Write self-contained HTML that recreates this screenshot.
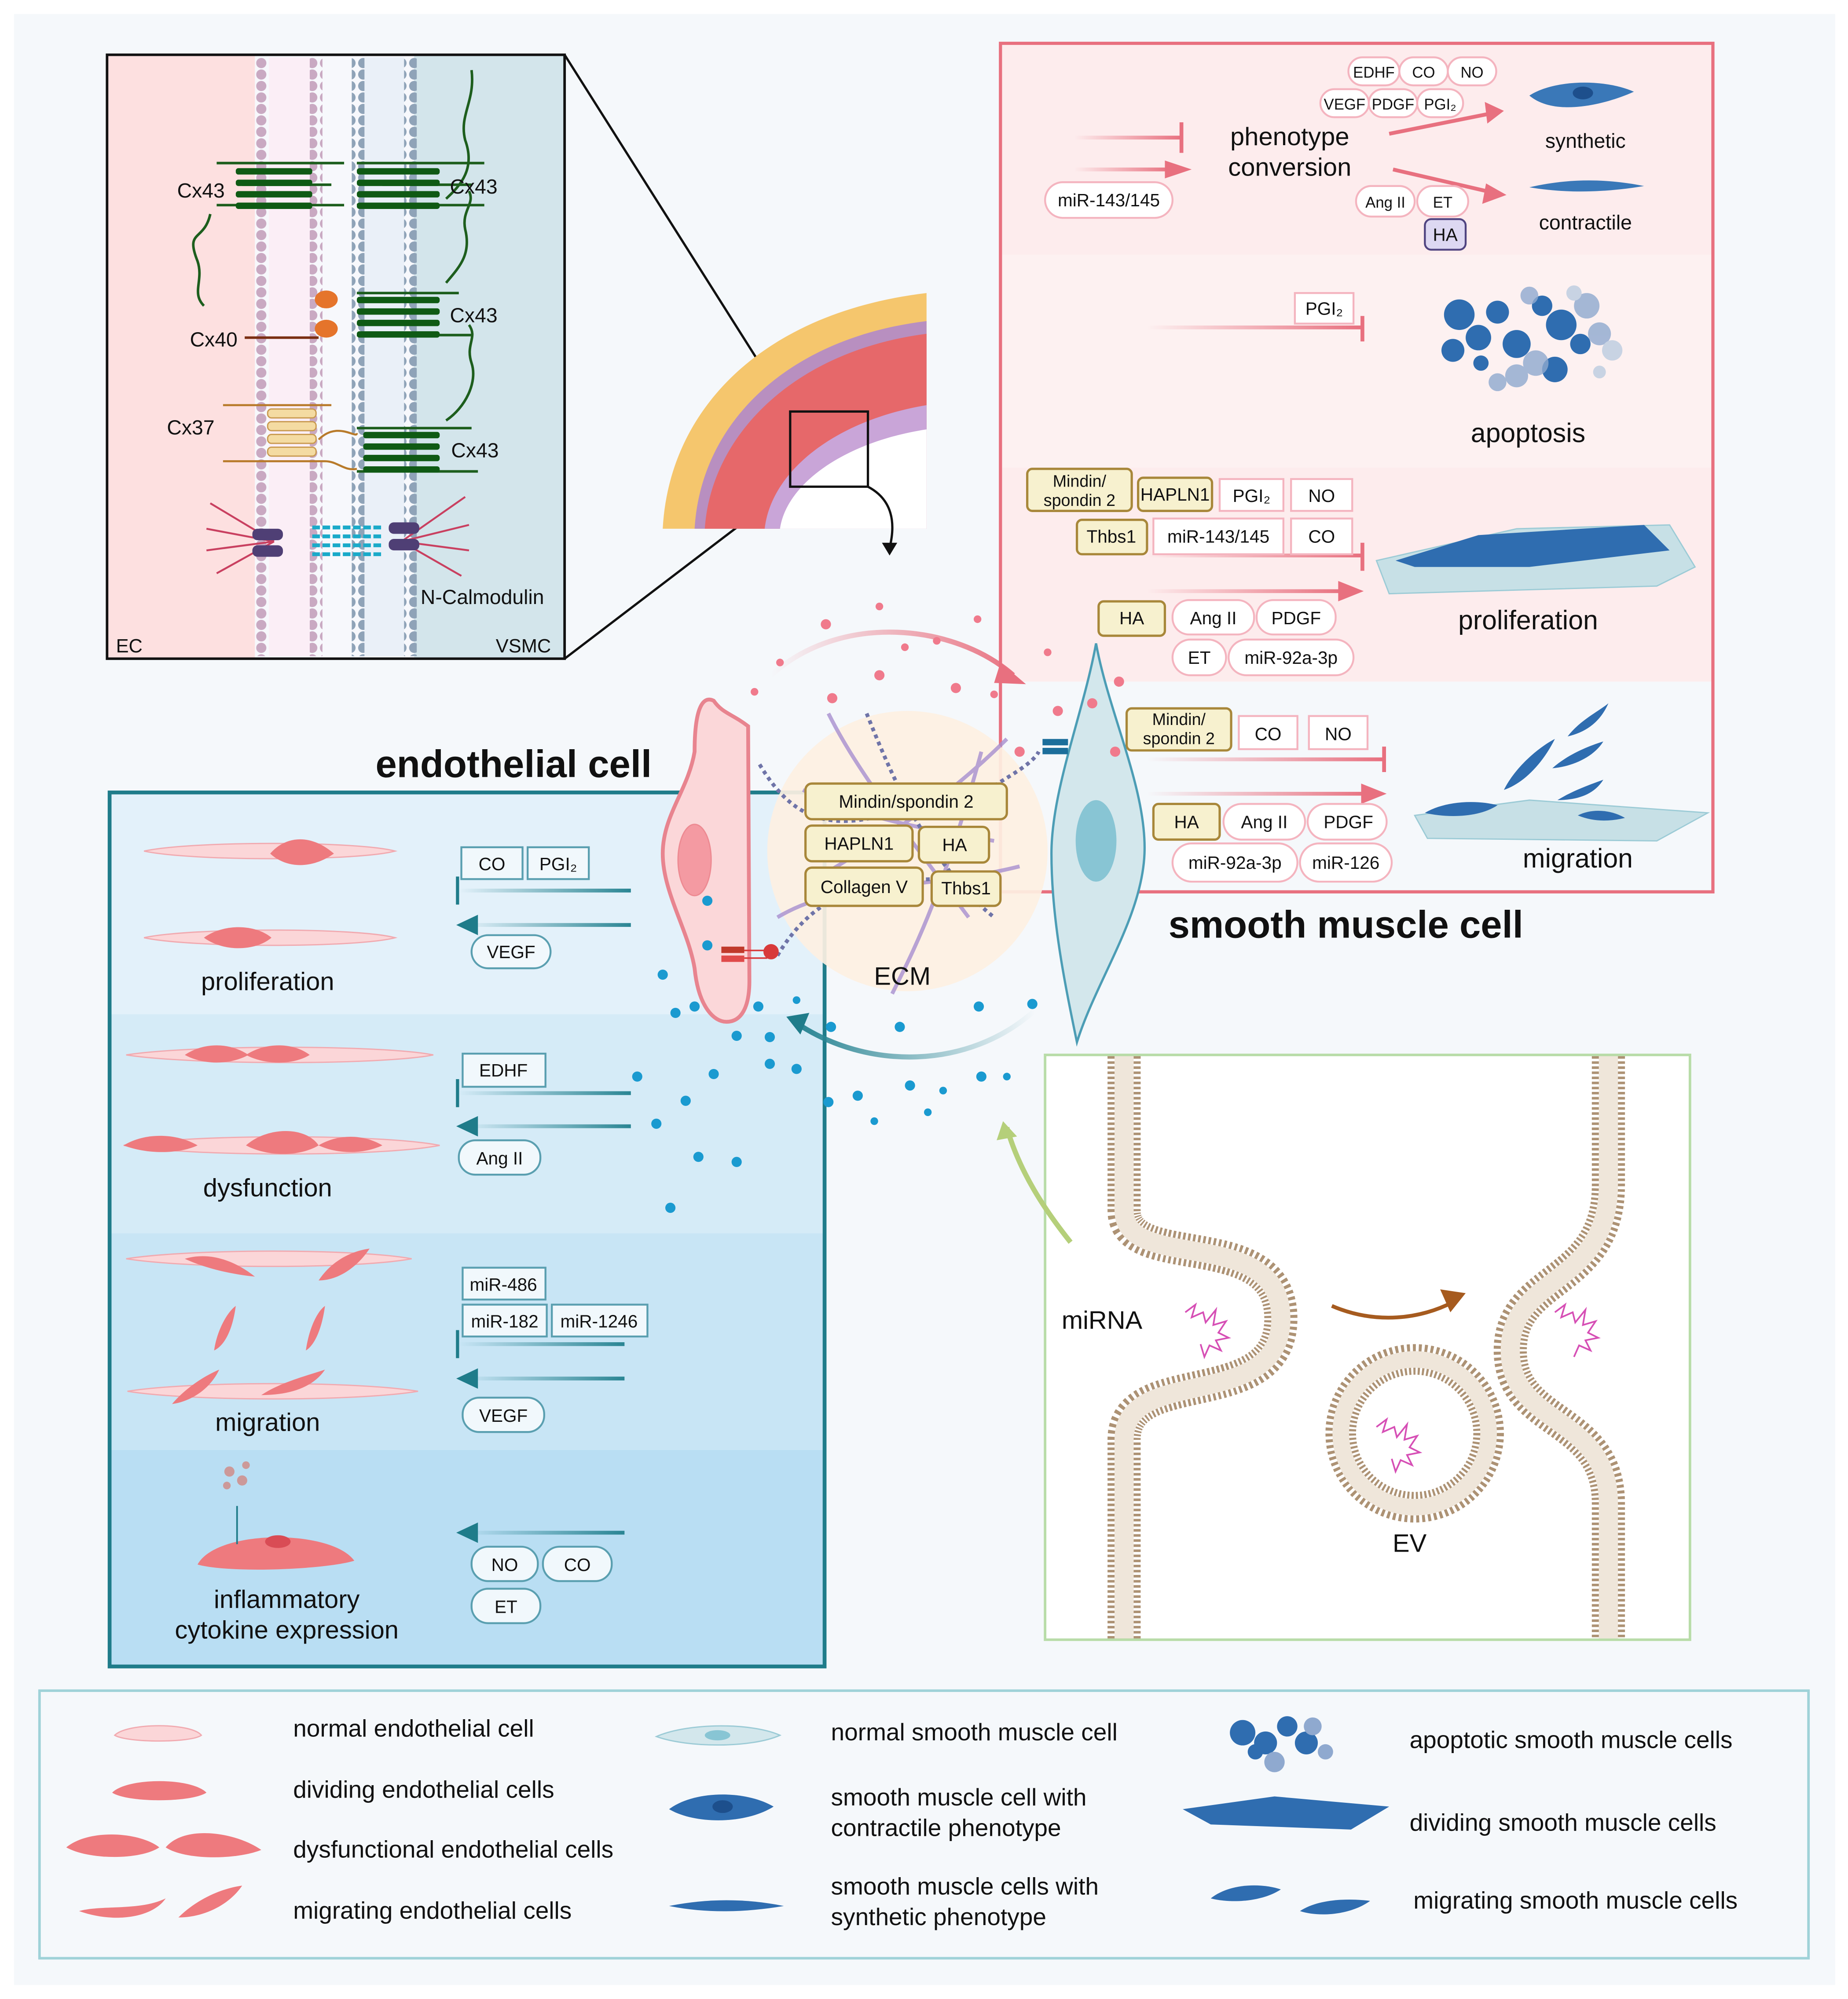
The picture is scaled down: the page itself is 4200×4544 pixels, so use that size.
<!DOCTYPE html>
<html><head><meta charset="utf-8"><style>
html,body{margin:0;padding:0;background:#fff}
svg{display:block}
text{font-family:"Liberation Sans",sans-serif;fill:#111}
</style></head><body>
<svg width="4200" height="4544" viewBox="0 0 1450 1569" preserveAspectRatio="none" xmlns="http://www.w3.org/2000/svg">
<defs>
<pattern id="pk" x="0" y="0" width="10" height="9" patternUnits="userSpaceOnUse"><circle cx="5" cy="4.5" r="4" fill="#c9a9c2"/></pattern>
<pattern id="bl" x="0" y="0" width="10" height="9" patternUnits="userSpaceOnUse"><circle cx="5" cy="4.5" r="4" fill="#8fa3b8"/></pattern>
<linearGradient id="gp" x1="0" x2="1" y1="0" y2="0"><stop offset="0" stop-color="#e8707f" stop-opacity="0"/><stop offset="1" stop-color="#e8707f"/></linearGradient>
<linearGradient id="gt" x1="0" x2="1" y1="0" y2="0"><stop offset="0" stop-color="#2a8593" stop-opacity="0"/><stop offset="1" stop-color="#2a8593"/></linearGradient>
<linearGradient id="gt3" x1="1" x2="0" y1="0" y2="0"><stop offset="0" stop-color="#2a8593" stop-opacity="0"/><stop offset="1" stop-color="#2a8593"/></linearGradient>
<linearGradient id="gpa" gradientUnits="userSpaceOnUse" x1="605" y1="0" x2="800" y2="0"><stop offset="0" stop-color="#e8707f" stop-opacity="0"/><stop offset="1" stop-color="#e8707f"/></linearGradient>
<linearGradient id="gta" gradientUnits="userSpaceOnUse" x1="812" y1="0" x2="625" y2="0"><stop offset="0" stop-color="#2a8593" stop-opacity="0"/><stop offset="1" stop-color="#2a8593"/></linearGradient>
</defs>
<rect x="0" y="0" width="1450" height="1569" fill="#fff"/>
<rect x="11" y="11" width="1429" height="1547" fill="#f5f8fb"/>

<!-- TOP-LEFT INSET -->
<rect x="84" y="43" width="359" height="474" fill="#fde0e0"/>
<rect x="200" y="43" width="130" height="474" fill="#f7f8fc"/>
<rect x="325" y="43" width="118" height="474" fill="#d3e5eb"/>
<rect x="201" y="45" width="10" height="470" fill="url(#pk)"/>
<rect x="243" y="45" width="10" height="470" fill="url(#pk)"/>
<rect x="211" y="45" width="32" height="470" fill="#fbeef6"/>
<rect x="276" y="45" width="10" height="470" fill="url(#bl)"/>
<rect x="317" y="45" width="10" height="470" fill="url(#bl)"/>
<rect x="286" y="45" width="31" height="470" fill="#eaf0f8"/>
<rect x="84" y="43" width="359" height="474" fill="none" stroke="#111" stroke-width="2"/>
<g stroke="#1d5e1d" fill="none" stroke-width="2">
<path d="M170 128 H270 M170 161 H270 M280 128 H380 M280 161 H380 M190 145 H260 M300 145 H370"/>
<path d="M165 168 C160 190 145 180 155 205 C160 220 150 230 160 240"/>
<path d="M350 156 C362 145 373 132 365 110 C360 90 373 80 370 55"/>
<path d="M280 230 H360 M280 263 H370 M350 222 C360 210 370 200 365 180 C362 165 373 160 368 150"/>
<path d="M280 336 H370 M280 370 H375 M350 330 C365 320 375 300 370 285 C365 270 375 265 368 255"/>
</g>
<g fill="#0f5a14">
<rect x="185" y="132" width="60" height="5" rx="2"/><rect x="185" y="141" width="60" height="5" rx="2"/><rect x="185" y="150" width="60" height="5" rx="2"/><rect x="185" y="159" width="60" height="5" rx="2"/>
<rect x="280" y="132" width="65" height="5" rx="2"/><rect x="280" y="141" width="65" height="5" rx="2"/><rect x="280" y="150" width="65" height="5" rx="2"/><rect x="280" y="159" width="65" height="5" rx="2"/>
<rect x="280" y="233" width="65" height="5" rx="2"/><rect x="280" y="242" width="65" height="5" rx="2"/><rect x="280" y="251" width="65" height="5" rx="2"/><rect x="280" y="260" width="65" height="5" rx="2"/>
<rect x="285" y="339" width="60" height="5" rx="2"/><rect x="285" y="348" width="60" height="5" rx="2"/><rect x="285" y="357" width="60" height="5" rx="2"/><rect x="285" y="366" width="60" height="5" rx="2"/>
</g>
<ellipse cx="256" cy="235" rx="9" ry="7" fill="#e5742b"/><ellipse cx="256" cy="258" rx="9" ry="7" fill="#e5742b"/>
<path d="M192 265 H250" stroke="#7a2e12" stroke-width="2"/>
<g fill="#f4dba2" stroke="#c99a50" stroke-width="1"><rect x="210" y="321" width="38" height="7" rx="3"/><rect x="210" y="331" width="38" height="7" rx="3"/><rect x="210" y="341" width="38" height="7" rx="3"/><rect x="210" y="351" width="38" height="7" rx="3"/></g>
<path d="M175 318 H260 M175 362 H255 C265 362 270 370 280 368 M250 345 C265 330 280 345 280 340" stroke="#b87a2a" stroke-width="1.6" fill="none"/>
<g stroke="#c94060" stroke-width="1.5"><path d="M165 395 L215 425 M162 415 L215 425 M162 432 L215 425 M170 450 L215 425 M365 390 L315 425 M368 412 L315 425 M368 432 L315 425 M362 452 L315 425"/></g>
<rect x="198" y="415" width="24" height="9" rx="4" fill="#4f3f75"/><rect x="198" y="428" width="24" height="9" rx="4" fill="#4f3f75"/>
<rect x="305" y="410" width="24" height="9" rx="4" fill="#4f3f75"/><rect x="305" y="423" width="24" height="9" rx="4" fill="#4f3f75"/>
<g stroke="#1aaac9" stroke-width="3" stroke-dasharray="6 2"><path d="M245 414 H300 M245 421 H300 M245 428 H300 M245 435 H300"/></g>
<g font-size="16"><text x="139" y="155">Cx43</text><text x="353" y="152">Cx43</text><text x="353" y="253">Cx43</text><text x="149" y="272">Cx40</text><text x="131" y="341">Cx37</text><text x="354" y="359">Cx43</text><text x="330" y="474">N-Calmodulin</text><text x="91" y="512" font-size="15">EC</text><text x="389" y="512" font-size="15">VSMC</text></g>
<path d="M443 43 L620 323 M443 517 L620 382" stroke="#111" stroke-width="1.8"/>

<!-- VESSEL -->
<path d="M520 415 C525 320 600 245 727 230 L727 415 Z" fill="#f5c66d"/>
<path d="M545 415 C550 330 620 265 727 252 L727 415 Z" fill="#b88fc0"/>
<path d="M553 415 C558 340 625 275 727 262 L727 415 Z" fill="#e6686a"/>
<path d="M600 415 C605 370 655 330 727 318 L727 415 Z" fill="#c9a5d8"/>
<path d="M612 415 C617 380 662 347 727 337 L727 415 Z" fill="#fff"/>
<rect x="620" y="323" width="61" height="59" fill="none" stroke="#111" stroke-width="1.8"/>
<path d="M681 382 C700 392 703 410 698 430" stroke="#111" stroke-width="1.8" fill="none"/>
<path d="M692 426 L698 436 L704 426 Z" fill="#111"/>

<!-- RIGHT BOX -->
<rect x="785" y="34" width="559" height="166" fill="#fdeced"/>
<rect x="785" y="200" width="559" height="167" fill="#fdf1f1"/>
<rect x="785" y="367" width="559" height="168" fill="#fdeced"/>
<rect x="785" y="535" width="559" height="165" fill="#f5f8fb"/>
<rect x="785" y="34" width="559" height="666" fill="none" stroke="#e8707f" stroke-width="2.5"/>
<g fill="url(#gp)">
<rect x="843" y="106.5" width="84" height="3"/><rect x="843" y="131.5" width="76" height="3"/><rect x="900" y="255.5" width="168" height="3"/><rect x="900" y="434.5" width="168" height="3"/><rect x="900" y="462.5" width="155" height="3"/><rect x="900" y="594.5" width="185" height="3"/><rect x="900" y="621.5" width="175" height="3"/>
</g>
<g stroke="#e8707f" stroke-width="3"><path d="M927 96 V120 M1069 248 V268 M1069 426 V448 M1086 586 V606"/></g>
<g fill="#e8707f"><path d="M914 126 L935 133 L914 140Z"/><path d="M1050 456 L1070 464 L1050 472Z"/><path d="M1068 615 L1088 623 L1068 631Z"/>
<path d="M1090 105 L1175 88" stroke="#e8707f" stroke-width="3"/><path d="M1165 80 L1180 87 L1167 97Z"/>
<path d="M1093 133 L1175 152" stroke="#e8707f" stroke-width="3"/><path d="M1166 144 L1182 153 L1163 160Z"/></g>
<text x="1012" y="114" font-size="20" text-anchor="middle">phenotype</text>
<text x="1012" y="138" font-size="20" text-anchor="middle">conversion</text>
<path d="M1200 75 C1220 62 1260 62 1282 72 C1260 82 1220 92 1200 75Z" fill="#3a78b8"/><ellipse cx="1242" cy="73" rx="8" ry="5" fill="#1d4f8c"/>
<path d="M1200 147 C1230 140 1260 140 1290 146 C1260 151 1230 152 1200 147Z" fill="#3a78b8"/>
<text x="1244" y="116" font-size="16" text-anchor="middle">synthetic</text>
<text x="1244" y="180" font-size="16" text-anchor="middle">contractile</text>
<text x="1199" y="347" font-size="21" text-anchor="middle">apoptosis</text>
<text x="1199" y="494" font-size="21" text-anchor="middle">proliferation</text>
<text x="1238" y="681" font-size="21" text-anchor="middle">migration</text>
<g fill="#2f6db0"><circle cx="1145" cy="247" r="12"/><circle cx="1160" cy="265" r="10"/><circle cx="1140" cy="275" r="9"/><circle cx="1175" cy="245" r="9"/><circle cx="1190" cy="270" r="11"/><circle cx="1225" cy="255" r="12"/><circle cx="1210" cy="240" r="8"/><circle cx="1240" cy="270" r="8"/><circle cx="1220" cy="290" r="10"/><circle cx="1162" cy="285" r="6"/></g>
<g fill="#8fa9cf" opacity=".8"><circle cx="1205" cy="285" r="10"/><circle cx="1190" cy="295" r="9"/><circle cx="1245" cy="240" r="10"/><circle cx="1255" cy="262" r="9"/><circle cx="1200" cy="232" r="7"/><circle cx="1175" cy="300" r="7"/></g>
<g fill="#c8d3e3"><circle cx="1265" cy="275" r="8"/><circle cx="1235" cy="230" r="6"/><circle cx="1255" cy="292" r="5"/></g>
<path d="M1080 440 L1190 415 L1310 412 L1330 445 L1300 460 L1090 466 Z" fill="#c7e0e6" stroke="#9ccbd6"/>
<path d="M1095 440 L1160 420 L1290 412 L1310 432 L1200 445 L1110 445 Z" fill="#2f6db0"/>
<path d="M1110 640 L1200 628 L1340 638 L1300 660 L1120 658 Z" fill="#c7e0e6" stroke="#9ccbd6"/>
<path d="M1118 638 C1135 628 1160 628 1175 632 C1160 642 1135 642 1118 638Z" fill="#2f6db0"/>
<path d="M1180 620 C1190 600 1210 585 1220 580 C1210 600 1195 615 1180 620Z" fill="#2f6db0"/>
<path d="M1230 578 C1240 565 1255 558 1262 552 C1255 568 1243 575 1230 578Z" fill="#2f6db0"/>
<path d="M1218 603 C1230 592 1248 585 1258 582 C1250 595 1232 602 1218 603Z" fill="#2f6db0"/>
<path d="M1222 628 C1235 620 1250 615 1258 612 C1250 625 1235 628 1222 628Z" fill="#2f6db0"/>
<path d="M1238 640 C1250 634 1265 636 1275 642 C1262 645 1250 645 1238 640Z" fill="#2f6db0"/>

<g fill="#fff" stroke="#f4b4bf" stroke-width="1.5">
<rect x="1058" y="45" width="40" height="22" rx="11"/><rect x="1098" y="45" width="38" height="22" rx="11"/><rect x="1136" y="45" width="38" height="22" rx="11"/>
<rect x="1036" y="70" width="38" height="22" rx="11"/><rect x="1074" y="70" width="38" height="22" rx="11"/><rect x="1112" y="70" width="36" height="22" rx="11"/>
<rect x="820" y="143" width="100" height="28" rx="14"/>
<rect x="1064" y="146" width="46" height="24" rx="12"/><rect x="1112" y="146" width="40" height="24" rx="12"/>
<rect x="1016" y="230" width="46" height="24" rx="0"/>
<rect x="957" y="376" width="50" height="25" rx="0"/><rect x="1013" y="376" width="48" height="25" rx="0"/>
<rect x="905" y="407" width="102" height="28" rx="0"/><rect x="1013" y="407" width="48" height="28" rx="0"/>
<rect x="920" y="471" width="64" height="27" rx="13"/><rect x="986" y="471" width="62" height="27" rx="13"/>
<rect x="920" y="502" width="42" height="28" rx="14"/><rect x="964" y="502" width="98" height="28" rx="14"/>
<rect x="972" y="562" width="46" height="26" rx="0"/><rect x="1027" y="562" width="46" height="26" rx="0"/>
<rect x="960" y="631" width="64" height="28" rx="14"/><rect x="1026" y="631" width="62" height="28" rx="14"/>
<rect x="920" y="662" width="98" height="30" rx="15"/><rect x="1020" y="662" width="72" height="30" rx="15"/>
</g>
<rect x="1118" y="172" width="32" height="24" rx="5" fill="#ddd8f2" stroke="#504480" stroke-width="1.5"/>
<g fill="#f7f1cf" stroke="#a8873a" stroke-width="1.8">
<rect x="806" y="368" width="82" height="33" rx="4"/><rect x="893" y="375" width="58" height="26" rx="4"/>
<rect x="845" y="408" width="55" height="27" rx="4"/><rect x="862" y="472" width="52" height="27" rx="4"/>
<rect x="884" y="556" width="82" height="33" rx="4"/><rect x="905" y="631" width="52" height="28" rx="4"/>
</g>
<g font-size="12" text-anchor="middle"><text x="1078" y="61">EDHF</text><text x="1117" y="61">CO</text><text x="1155" y="61">NO</text><text x="1055" y="86">VEGF</text><text x="1093" y="86">PDGF</text><text x="1130" y="86">PGI₂</text>
<text x="1087" y="163">Ang II</text><text x="1132" y="163">ET</text></g>
<g font-size="14" text-anchor="middle"><text x="870" y="162">miR-143/145</text><text x="1134" y="189">HA</text><text x="1039" y="247">PGI₂</text>
<text x="847" y="382" font-size="13">Mindin/</text><text x="847" y="397" font-size="13">spondin 2</text><text x="922" y="393">HAPLN1</text><text x="982" y="394">PGI₂</text><text x="1037" y="394">NO</text>
<text x="872" y="426">Thbs1</text><text x="956" y="426">miR-143/145</text><text x="1037" y="426">CO</text>
<text x="888" y="490">HA</text><text x="952" y="490">Ang II</text><text x="1017" y="490">PDGF</text><text x="941" y="521">ET</text><text x="1013" y="521">miR-92a-3p</text>
<text x="925" y="569" font-size="13">Mindin/</text><text x="925" y="584" font-size="13">spondin 2</text><text x="995" y="581">CO</text><text x="1050" y="581">NO</text>
<text x="931" y="650">HA</text><text x="992" y="650">Ang II</text><text x="1058" y="650">PDGF</text><text x="969" y="682">miR-92a-3p</text><text x="1056" y="682">miR-126</text></g>

<!-- LEFT BOX -->
<rect x="86" y="622" width="561" height="174" fill="#e3f1fa"/>
<rect x="86" y="796" width="561" height="172" fill="#d5ebf7"/>
<rect x="86" y="968" width="561" height="170" fill="#c8e5f5"/>
<rect x="86" y="1138" width="561" height="170" fill="#b9def3"/>
<rect x="86" y="622" width="561" height="686" fill="none" stroke="#1f7c8a" stroke-width="3"/>
<circle cx="712" cy="668" r="110" fill="#fdf0e2" opacity=".92"/>
<g stroke="#a78fd0" stroke-width="3" fill="none" opacity=".8">
<path d="M650 560 C670 600 700 640 760 720"/><path d="M640 690 C690 660 740 630 790 580"/><path d="M610 720 C660 690 720 700 800 680"/><path d="M700 780 C720 740 740 700 770 590"/><path d="M630 620 C670 640 720 650 780 660"/></g>
<g stroke="#6f74a8" stroke-width="3" stroke-dasharray="3 3" fill="none"><path d="M596 600 C620 640 650 660 720 630"/><path d="M610 750 C640 700 680 690 740 690"/><path d="M680 560 C700 610 730 680 780 720"/><path d="M775 620 C790 610 810 600 815 590"/></g>
<g fill="#f7f1cf" stroke="#a8873a" stroke-width="1.8">
<rect x="632" y="615" width="158" height="28" rx="5"/><rect x="632" y="648" width="84" height="28" rx="5"/><rect x="721" y="649" width="55" height="28" rx="5"/>
<rect x="632" y="681" width="92" height="30" rx="5"/><rect x="731" y="684" width="54" height="27" rx="5"/>
</g>
<g font-size="14" text-anchor="middle"><text x="711" y="634">Mindin/spondin 2</text><text x="674" y="667">HAPLN1</text><text x="749" y="668">HA</text><text x="678" y="701">Collagen V</text><text x="758" y="702">Thbs1</text></g>
<path d="M587 570 C574 560 567 560 560 550 C550 545 545 560 545 590 C540 620 520 640 520 670 C520 700 540 730 545 760 C548 790 560 802 570 802 C582 802 588 790 588 770 Z" fill="#fbd7d9" stroke="#e8848f" stroke-width="3"/>
<ellipse cx="545" cy="675" rx="13" ry="28" fill="#f49aa2" stroke="#ed8a92"/>
<rect x="566" y="743" width="18" height="5" fill="#c0392b"/><rect x="566" y="750" width="18" height="5" fill="#e04a4a"/>
<path d="M584 746 H602 M584 752 H602" stroke="#d83a3a" stroke-width="1.2"/>
<circle cx="605" cy="747" r="6" fill="#d83a3a"/>
<path d="M860 505 C870 560 900 620 898 670 C896 720 860 770 845 818 C835 770 825 720 825 670 C825 620 850 560 860 505Z" fill="#d3e7ec" stroke="#4c9db5" stroke-width="1.8"/>
<ellipse cx="860" cy="660" rx="16" ry="32" fill="#88c5d4"/>
<rect x="818" y="580" width="20" height="5" fill="#1c6e9b"/><rect x="818" y="587" width="20" height="5" fill="#1c6e9b"/>
<text x="708" y="773" font-size="20" text-anchor="middle">ECM</text>
<path d="M605 530 C660 480 750 490 795 530" stroke="url(#gpa)" stroke-width="4" fill="none"/>
<path d="M785 520 L805 537 L780 536Z" fill="#e8707f"/>
<path d="M812 793 C760 840 680 840 625 803" stroke="url(#gta)" stroke-width="4" fill="none"/>
<path d="M617 798 L635 795 L628 812Z" fill="#1f7c8a"/>
<g fill="#f07a8c"><circle cx="648" cy="490" r="4"/><circle cx="690" cy="476" r="3"/><circle cx="735" cy="503" r="3"/><circle cx="767" cy="486" r="3"/><circle cx="710" cy="508" r="3"/><circle cx="653" cy="548" r="4"/><circle cx="690" cy="530" r="4"/><circle cx="750" cy="540" r="4"/><circle cx="780" cy="545" r="3"/><circle cx="822" cy="512" r="3"/><circle cx="830" cy="558" r="4"/><circle cx="857" cy="552" r="4"/><circle cx="875" cy="590" r="4"/><circle cx="612" cy="520" r="3"/><circle cx="592" cy="543" r="3"/><circle cx="800" cy="590" r="4"/><circle cx="878" cy="535" r="4"/></g>
<g fill="#1a9ad0"><circle cx="520" cy="765" r="4"/><circle cx="530" cy="795" r="4"/><circle cx="545" cy="790" r="4"/><circle cx="555" cy="742" r="4"/><circle cx="555" cy="707" r="4"/><circle cx="560" cy="843" r="4"/><circle cx="578" cy="813" r="4"/><circle cx="604" cy="814" r="4"/><circle cx="604" cy="835" r="4"/><circle cx="625" cy="839" r="4"/><circle cx="500" cy="845" r="4"/><circle cx="538" cy="864" r="4"/><circle cx="515" cy="882" r="4"/><circle cx="548" cy="908" r="4"/><circle cx="578" cy="912" r="4"/><circle cx="526" cy="948" r="4"/><circle cx="650" cy="865" r="4"/><circle cx="673" cy="860" r="4"/><circle cx="714" cy="852" r="4"/><circle cx="686" cy="880" r="3"/><circle cx="706" cy="806" r="4"/><circle cx="768" cy="790" r="4"/><circle cx="770" cy="845" r="4"/><circle cx="740" cy="856" r="3"/><circle cx="790" cy="845" r="3"/><circle cx="810" cy="788" r="4"/><circle cx="595" cy="790" r="4"/><circle cx="652" cy="806" r="4"/><circle cx="728" cy="873" r="3"/><circle cx="625" cy="785" r="3"/></g>
<text x="403" y="610" font-size="30" font-weight="bold" text-anchor="middle">endothelial cell</text>
<text x="1056" y="736" font-size="30" font-weight="bold" text-anchor="middle">smooth muscle cell</text>
<g fill="url(#gt)"><rect x="360" y="697.5" width="135" height="3"/><rect x="365" y="724.5" width="130" height="3"/><rect x="360" y="856.5" width="135" height="3"/><rect x="365" y="882.5" width="130" height="3"/><rect x="360" y="1053.5" width="130" height="3"/><rect x="365" y="1080.5" width="125" height="3"/><rect x="365" y="1201.5" width="125" height="3"/></g>
<g stroke="#1f7c8a" stroke-width="2.5"><path d="M359 688 V710 M359 847 V869 M359 1044 V1066"/></g>
<g fill="#1f7c8a"><path d="M375 718 L358 726 L375 734Z"/><path d="M375 876 L358 884 L375 892Z"/><path d="M375 1074 L358 1082 L375 1090Z"/><path d="M375 1195 L358 1203 L375 1211Z"/></g>
<g fill="#f1f8fc" stroke="#5a9fb0" stroke-width="1.5">
<rect x="362" y="665" width="48" height="25"/><rect x="414" y="665" width="48" height="25"/>
<rect x="370" y="734" width="62" height="26" rx="13"/>
<rect x="363" y="827" width="65" height="26"/><rect x="360" y="895" width="64" height="27" rx="13"/>
<rect x="363" y="995" width="65" height="25"/><rect x="363" y="1024" width="66" height="25"/><rect x="433" y="1024" width="75" height="25"/>
<rect x="363" y="1097" width="64" height="27" rx="13"/>
<rect x="370" y="1214" width="52" height="27" rx="13"/><rect x="426" y="1214" width="54" height="27" rx="13"/><rect x="370" y="1247" width="54" height="27" rx="13"/>
</g>
<g font-size="14" text-anchor="middle"><text x="386" y="683">CO</text><text x="438" y="683">PGI₂</text><text x="401" y="752">VEGF</text><text x="395" y="845">EDHF</text><text x="392" y="914">Ang II</text>
<text x="395" y="1013">miR-486</text><text x="396" y="1042">miR-182</text><text x="470" y="1042">miR-1246</text><text x="395" y="1116">VEGF</text><text x="396" y="1233">NO</text><text x="453" y="1233">CO</text><text x="397" y="1266">ET</text></g>
<g font-size="20" text-anchor="middle"><text x="210" y="777">proliferation</text><text x="210" y="939">dysfunction</text><text x="210" y="1123">migration</text><text x="225" y="1262">inflammatory</text><text x="225" y="1286">cytokine expression</text></g>
<g fill="#fbd6d8" stroke="#f1aab0">
<path d="M113 668 C150 660 280 660 310 668 C280 676 150 676 113 668Z"/><path d="M113 736 C150 728 280 728 310 736 C280 744 150 744 113 736Z"/>
<path d="M99 828 C150 820 300 820 340 828 C300 836 150 836 99 828Z"/><path d="M97 899 C150 890 300 890 345 899 C300 908 150 908 97 899Z"/>
<path d="M99 988 C150 980 280 980 323 988 C280 996 150 996 99 988Z"/><path d="M100 1092 C150 1084 280 1084 328 1092 C280 1100 150 1100 100 1092Z"/></g>
<g fill="#ee7a7e"><path d="M212 670 C225 655 245 655 262 670 C245 682 225 682 212 670Z"/><path d="M160 736 C175 725 200 725 213 736 C200 747 175 747 160 736Z"/>
<path d="M145 828 C160 818 180 818 195 828 C180 836 160 836 145 828Z"/><path d="M193 828 C208 818 230 818 243 828 C230 836 208 836 193 828Z"/>
<path d="M97 899 C115 888 140 890 155 899 C140 906 115 906 97 899Z"/><path d="M193 899 C210 884 240 884 250 899 C235 908 210 908 193 899Z"/><path d="M250 899 C265 890 285 890 300 899 C285 906 265 906 250 899Z"/>
<path d="M145 988 C165 982 185 990 200 1002 C180 1000 160 995 145 988Z"/><path d="M250 1005 C260 990 275 982 290 980 C280 995 265 1005 250 1005Z"/>
<path d="M168 1060 C170 1045 178 1030 185 1025 C183 1040 178 1055 168 1060Z"/><path d="M240 1060 C242 1045 248 1030 255 1025 C253 1040 248 1055 240 1060Z"/>
<path d="M135 1102 C145 1090 160 1080 172 1075 C165 1090 150 1100 135 1102Z"/><path d="M205 1095 C220 1085 240 1080 255 1075 C245 1090 225 1095 205 1095Z"/>
<path d="M155 1228 C170 1200 260 1200 278 1225 C255 1232 180 1235 155 1228Z"/></g>
<ellipse cx="218" cy="1210" rx="10" ry="5" fill="#d94c55"/>
<path d="M186 1212 V1182" stroke="#1f7c8a" stroke-width="1.3"/>
<g fill="#c99"><circle cx="180" cy="1155" r="4"/><circle cx="190" cy="1162" r="4"/><circle cx="178" cy="1166" r="3"/><circle cx="193" cy="1150" r="3"/></g>

<!-- EV BOX -->
<rect x="820" y="828" width="506" height="459" fill="#fff" stroke="#b8dca8" stroke-width="2"/>
<path d="M840 975 C820 950 800 920 790 885" stroke="#b5cf7a" stroke-width="4" fill="none"/>
<path d="M782 895 L787 880 L798 892Z" fill="#b5cf7a"/>
<g fill="none">
<path d="M882 829 L882 950 C882 1000 1005 960 1005 1035 C1005 1110 882 1070 882 1130 L882 1286" stroke="#ad9274" stroke-width="26" stroke-dasharray="2 2"/>
<path d="M882 829 L882 950 C882 1000 1005 960 1005 1035 C1005 1110 882 1070 882 1130 L882 1286" stroke="#efe6da" stroke-width="15"/>
<path d="M1262 829 L1262 930 C1262 1010 1185 1000 1185 1060 C1185 1120 1262 1110 1262 1180 L1262 1286" stroke="#ad9274" stroke-width="26" stroke-dasharray="2 2"/>
<path d="M1262 829 L1262 930 C1262 1010 1185 1000 1185 1060 C1185 1120 1262 1110 1262 1180 L1262 1286" stroke="#efe6da" stroke-width="15"/>
<circle cx="1110" cy="1125" r="58" stroke="#ad9274" stroke-width="24" stroke-dasharray="2 2"/>
<circle cx="1110" cy="1125" r="58" stroke="#efe6da" stroke-width="13"/>
<g stroke="#d64fb5" stroke-width="1.3"><path d="M930 1030 l8 -6 l-3 10 l9 -4 l2 8 l8 -10 l-2 12 l10 -3 l-6 9 l8 4 l-10 2 l4 8 l-9 -4 l-4 9 l-3 -10"/><path d="M1220 1030 l8 -6 l-3 10 l9 -4 l2 8 l8 -10 l-2 12 l10 -3 l-6 9 l8 4 l-10 2 l4 8 l-9 -4 l-4 9"/><path d="M1080 1120 l8 -6 l-3 10 l9 -4 l2 8 l8 -10 l-2 12 l10 -3 l-6 9 l8 4 l-10 2 l4 8 l-9 -4 l-4 9 l-3 -10"/></g>
<path d="M1045 1025 C1080 1040 1115 1035 1140 1022" stroke="#a65b1f" stroke-width="3"/>
</g>
<path d="M1130 1012 L1150 1015 L1138 1030Z" fill="#a65b1f"/>
<text x="833" y="1043" font-size="20">miRNA</text>
<text x="1106" y="1218" font-size="20" text-anchor="middle">EV</text>

<!-- LEGEND -->
<rect x="31" y="1327" width="1388" height="210" fill="#f5f8fb" stroke="#9fd2d8" stroke-width="2"/>
<g font-size="19"><text x="230" y="1363">normal endothelial cell</text><text x="230" y="1411">dividing endothelial cells</text><text x="230" y="1458">dysfunctional endothelial cells</text><text x="230" y="1506">migrating endothelial cells</text>
<text x="652" y="1366">normal smooth muscle cell</text><text x="652" y="1417">smooth muscle cell with</text><text x="652" y="1441">contractile phenotype</text><text x="652" y="1487">smooth muscle cells with</text><text x="652" y="1511">synthetic phenotype</text>
<text x="1106" y="1372">apoptotic smooth muscle cells</text><text x="1106" y="1437">dividing smooth muscle cells</text><text x="1109" y="1498">migrating smooth muscle cells</text></g>
<path d="M90 1362 C100 1352 150 1352 158 1362 C150 1368 100 1368 90 1362Z" fill="#fbd6d8" stroke="#f1aab0"/>
<path d="M88 1407 C100 1395 150 1395 162 1407 C150 1415 100 1415 88 1407Z" fill="#ee7a7e"/>
<path d="M52 1450 C70 1435 110 1438 125 1450 C110 1460 70 1460 52 1450Z" fill="#ee7a7e"/><path d="M130 1450 C145 1432 185 1438 205 1452 C185 1460 145 1460 130 1450Z" fill="#ee7a7e"/>
<path d="M62 1500 C80 1495 110 1500 130 1490 C120 1505 90 1510 62 1500Z" fill="#ee7a7e"/><path d="M140 1505 C155 1490 175 1482 190 1480 C180 1495 160 1505 140 1505Z" fill="#ee7a7e"/>
<path d="M515 1363 C540 1352 590 1352 612 1362 C590 1372 540 1372 515 1363Z" fill="#d3e7ec" stroke="#9ccbd6"/><ellipse cx="563" cy="1362" rx="10" ry="4" fill="#88c5d4"/>
<path d="M525 1420 C545 1405 585 1405 607 1418 C585 1432 545 1432 525 1420Z" fill="#2f6db0"/><ellipse cx="567" cy="1418" rx="8" ry="5" fill="#1d4f8c"/>
<path d="M525 1496 C555 1490 585 1490 615 1496 C585 1501 555 1502 525 1496Z" fill="#2f6db0"/>
<g fill="#2f6db0"><circle cx="975" cy="1360" r="10"/><circle cx="993" cy="1368" r="9"/><circle cx="1010" cy="1355" r="8"/><circle cx="1025" cy="1368" r="9"/><circle cx="985" cy="1375" r="6"/></g>
<g fill="#8fa9cf"><circle cx="1000" cy="1383" r="8"/><circle cx="1030" cy="1355" r="7"/><circle cx="1040" cy="1375" r="6"/></g>
<path d="M928 1420 L1000 1410 L1090 1418 L1060 1436 L950 1432 Z" fill="#2f6db0"/>
<path d="M950 1490 C965 1478 990 1478 1005 1483 C990 1493 965 1494 950 1490Z" fill="#2f6db0"/><path d="M1020 1500 C1035 1490 1060 1490 1075 1492 C1060 1503 1035 1505 1020 1500Z" fill="#2f6db0"/>
</svg>
</body></html>
